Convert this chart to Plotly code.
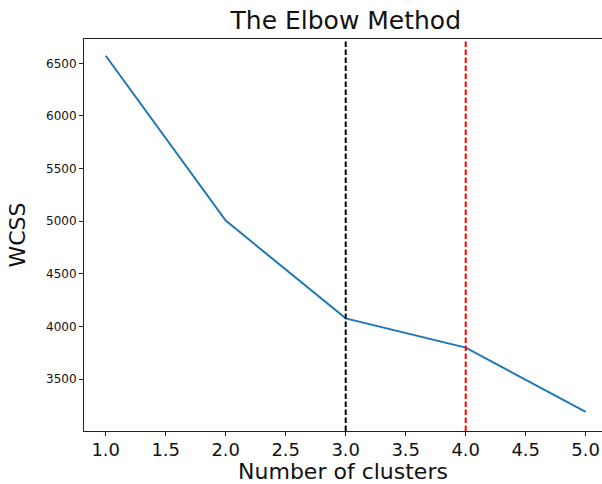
import plotly.graph_objects as go

# Data
n_clusters = [1, 2, 3, 4, 5]
wcss = [6572, 5005, 4076, 3798, 3187]
vline_x = [3, 4]
vline_colors = ["black", "red"]
x_ticks = [1.0, 1.5, 2.0, 2.5, 3.0, 3.5, 4.0, 4.5, 5.0]
y_ticks = [3500, 4000, 4500, 5000, 5500, 6000, 6500]

FONT = "DejaVu Sans"

fig = go.Figure()
fig.add_trace(go.Scatter(
    x=n_clusters, y=wcss, mode="lines",
    line=dict(color="#1f77b4", width=2), showlegend=False, hoverinfo="skip"))

for xv, c in zip(vline_x, vline_colors):
    fig.add_shape(type="line", xref="x", yref="paper", x0=xv, x1=xv, y0=0, y1=1,
                  line=dict(color=c, width=2, dash="5.5px,2.5px"))

fig.update_layout(
    width=602, height=484,
    margin=dict(l=84, r=0, t=39, b=53),
    paper_bgcolor="white", plot_bgcolor="white",
    font=dict(family=FONT, color="#111"),
    title=dict(text="The Elbow Method", x=345.8 / 602, xref="container", xanchor="center",
               y=1 - 20 / 484, yref="container", yanchor="middle",
               font=dict(size=25, family=FONT, color="#111")),
    xaxis=dict(range=[0.819, 5.136], tickvals=x_ticks, tickformat=".1f",
               showgrid=False, zeroline=False, showline=True, linecolor="#222", linewidth=1,
               mirror=True, ticks="outside", ticklen=4, tickwidth=1, tickcolor="#222",
               ticklabelstandoff=-2,
               tickfont=dict(size=18, family=FONT, color="#111"),
               title=dict(text="Number of clusters", font=dict(size=22, family=FONT, color="#111"),
                          standoff=8)),
    yaxis=dict(range=[3006, 6731], tickvals=y_ticks,
               showgrid=False, zeroline=False, showline=True, linecolor="#222", linewidth=1,
               mirror=False, ticks="outside", ticklen=4, tickwidth=1, tickcolor="#222",
               tickfont=dict(size=12, family=FONT, color="#111"),
               title=dict(text="WCSS", font=dict(size=22, family=FONT, color="#111"),
                          standoff=14)),
)

fig.write_html("out.html", config={"displayModeBar": False},
               post_script="document.body.style.margin='0';document.body.style.overflow='hidden';")
